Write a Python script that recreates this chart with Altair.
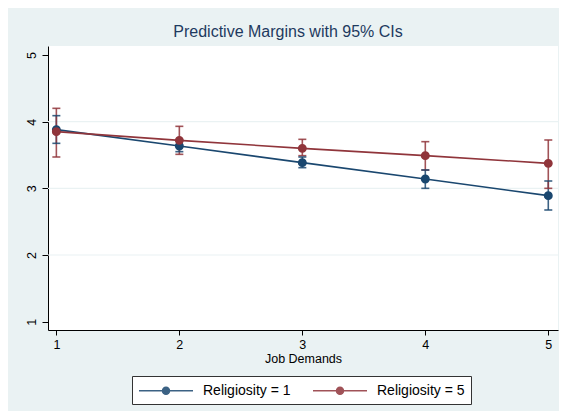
import altair as alt
import pandas as pd

# ---- data ----
job_demands = [1, 2, 3, 4, 5]
series_names = ["Religiosity = 1", "Religiosity = 5"]
r1_margin = [3.88, 3.635, 3.385, 3.14, 2.89]
r1_lo = [3.675, 3.55, 3.31, 3.00, 2.675]
r1_hi = [4.09, 3.72, 3.47, 3.275, 3.11]
r5_margin = [3.85, 3.72, 3.60, 3.49, 3.375]
r5_lo = [3.47, 3.51, 3.49, 3.275, 3.00]
r5_hi = [4.20, 3.93, 3.735, 3.70, 3.725]
y_ticks = [1, 2, 3, 4, 5]
grid_values = [2, 3, 4]

rows = []
for name, m, lo, hi in [(series_names[0], r1_margin, r1_lo, r1_hi),
                        (series_names[1], r5_margin, r5_lo, r5_hi)]:
    for x, a, b, c in zip(job_demands, m, lo, hi):
        rows.append({"jd": x, "series": name, "margin": a, "lo": b, "hi": c})
df = pd.DataFrame(rows)
grid_df = pd.DataFrame({"g": grid_values})

BLUE = "#1a476f"
RED = "#90353b"
BG = "#eaf2f3"
FONT = "Liberation Sans"

xscale = alt.Scale(domain=[0.932, 5.079], nice=False, zero=False)
yscale = alt.Scale(domain=[0.875, 5.135], nice=False, zero=False)
cscale = alt.Scale(domain=series_names, range=[BLUE, RED])

xaxis = alt.Axis(values=job_demands, format="d", title="Job Demands", grid=False,
                 tickSize=5, labelPadding=3, titlePadding=2, titleFontWeight="normal",
                 titleFontSize=12.5, labelFontSize=12.5)
yaxis = alt.Axis(values=y_ticks, format="d", title=None, grid=False, tickSize=6,
                 labelAngle=270, labelAlign="center", labelBaseline="bottom",
                 labelPadding=4, labelFontSize=12.5)

# legend symbol: a line with a dot in its middle (unit = half the symbol box)
sym_path = ("M-1,0H6.2M2.133,0A0.467,0.467,0,1,0,3.067,0"
            "A0.467,0.467,0,1,0,2.133,0Z")
legend = alt.Legend(
    title=None, orient="none", legendX=84, legendY=330, direction="horizontal",
    symbolType=sym_path, symbolSize=225, symbolStrokeWidth=1.5,
    labelFont=FONT, labelFontSize=14, labelColor="black", labelOffset=48,
    columnPadding=19, padding=6, strokeColor="#333333", fillColor="white",
)

base = alt.Chart(df)

grid = alt.Chart(grid_df).mark_rule(color=BG, strokeWidth=1.2).encode(
    y=alt.Y("g:Q", scale=yscale, axis=yaxis)
)

bars = base.mark_rule(strokeWidth=1.6, opacity=0.85).encode(
    x=alt.X("jd:Q", scale=xscale, axis=xaxis),
    y=alt.Y("lo:Q", scale=yscale, axis=yaxis),
    y2="hi:Q",
    stroke=alt.Stroke("series:N", scale=cscale, legend=legend),
)
cap_lo = base.mark_tick(thickness=1.6, size=8, opacity=0.85, orient="horizontal").encode(
    x=alt.X("jd:Q", scale=xscale, axis=xaxis),
    y=alt.Y("lo:Q", scale=yscale, axis=yaxis),
    fill=alt.Fill("series:N", scale=cscale, legend=legend),
)
cap_hi = base.mark_tick(thickness=1.6, size=8, opacity=0.85, orient="horizontal").encode(
    x=alt.X("jd:Q", scale=xscale, axis=xaxis),
    y=alt.Y("hi:Q", scale=yscale, axis=yaxis),
    fill=alt.Fill("series:N", scale=cscale, legend=legend),
)
lines = base.mark_line(strokeWidth=1.6).encode(
    x=alt.X("jd:Q", scale=xscale, axis=xaxis),
    y=alt.Y("margin:Q", scale=yscale, axis=yaxis),
    stroke=alt.Stroke("series:N", scale=cscale, legend=legend),
    detail="series:N",
)
points = base.mark_point(filled=True, size=55, opacity=1, strokeWidth=1.5).encode(
    x=alt.X("jd:Q", scale=xscale, axis=xaxis),
    y=alt.Y("margin:Q", scale=yscale, axis=yaxis),
    fill=alt.Fill("series:N", scale=cscale, legend=legend),
    stroke=alt.Stroke("series:N", scale=cscale, legend=legend),
)

chart = alt.layer(grid, bars, cap_lo, cap_hi, lines, points).properties(
    width=510, height=284,
    title=alt.TitleParams("Predictive Margins with 95% CIs", font=FONT, fontSize=16,
                          fontWeight="normal", color="#1e3a5f", anchor="middle",
                          dx=-15, offset=6),
    autosize=alt.AutoSizeParams(type="none"),
    padding={"left": 40, "top": 38, "right": 1, "bottom": 81},
    background=BG,
).configure_view(
    fill="white", stroke=None
).configure_axis(
    domainColor="black", domainWidth=1, tickColor="black", tickWidth=1,
    labelFont=FONT, titleFont=FONT, labelColor="black", titleColor="black",
)

chart.save("out.html", embed_options={"renderer": "svg", "actions": False})
